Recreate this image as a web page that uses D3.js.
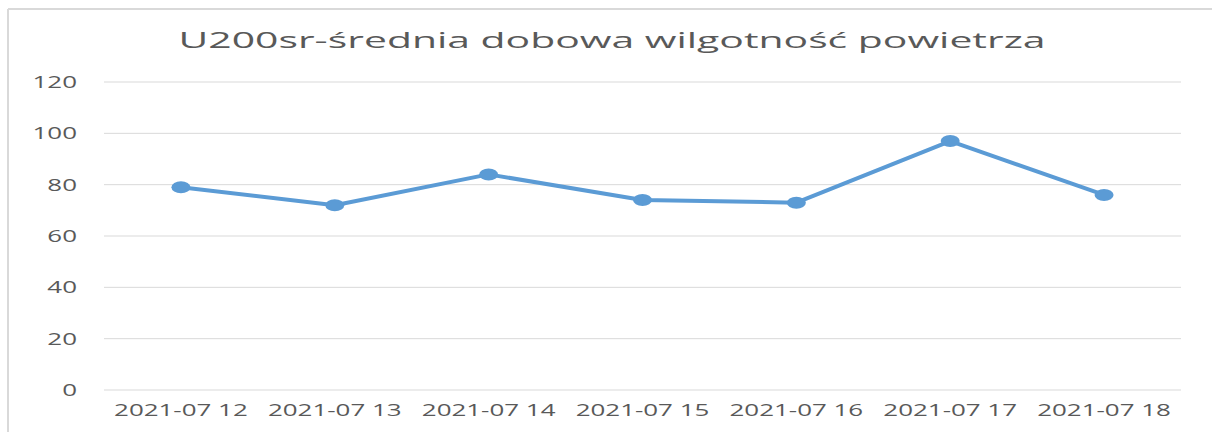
<!DOCTYPE html>
<html>
<head>
<meta charset="utf-8">
<script src="https://cdn.jsdelivr.net/npm/d3@7"></script>
<style>
  body { margin: 0; background: #fff; }
  text { font-family: "Open Sans", sans-serif; fill: #595959; }
</style>
</head>
<body>
<svg id="chart"></svg>
<script>
// data
const dates  = ["2021-07 12", "2021-07 13", "2021-07 14", "2021-07 15", "2021-07 16", "2021-07 17", "2021-07 18"];
const values = [79, 72, 84, 74, 73, 97, 76];
const yTicks = [0, 20, 40, 60, 80, 100, 120];
const title  = "U200sr-średnia dobowa wilgotność powietrza";

const width = 1212, height = 432;
const plot = {left: 104, right: 1181, top: 82, bottom: 390};

// the original is stretched sideways, so text is widened to match
const stretch = 1.62;

const svg = d3.select("#chart")
    .attr("width", width)
    .attr("height", height);

// chart frame (only left and top edges show)
svg.append("line")
    .attr("x1", 8).attr("x2", 8).attr("y1", 9).attr("y2", height)
    .attr("stroke", "#d9d9d9").attr("stroke-width", 2);
svg.append("line")
    .attr("x1", 8).attr("x2", width).attr("y1", 9).attr("y2", 9)
    .attr("stroke", "#d9d9d9").attr("stroke-width", 2);

const x = d3.scaleBand().domain(dates).range([plot.left, plot.right]).padding(0);
const y = d3.scaleLinear().domain([0, 120]).range([plot.bottom, plot.top]);

// gridlines
svg.append("g").selectAll("line")
    .data(yTicks)
    .enter().append("line")
    .attr("x1", plot.left).attr("x2", plot.right)
    .attr("y1", d => y(d)).attr("y2", d => y(d))
    .attr("stroke", "#d9d9d9").attr("stroke-width", 1);

// y labels, right aligned at x=77
const yLab = svg.append("g").selectAll("text")
    .data(yTicks)
    .enter().append("text")
    .attr("y", d => y(d) + 6)
    .style("font-size", "16px")
    .text(d => d);
yLab.each(function() {
  const w = this.getComputedTextLength() * stretch;
  d3.select(this).attr("x", 77 - w)
    .attr("textLength", w).attr("lengthAdjust", "spacingAndGlyphs");
});

// x labels
const xLab = svg.append("g").selectAll("text")
    .data(dates)
    .enter().append("text")
    .attr("y", 416)
    .style("font-size", "16px")
    .text(d => d);
xLab.each(function(d) {
  const w = this.getComputedTextLength() * stretch;
  d3.select(this).attr("x", x(d) + x.bandwidth() / 2 - w / 2)
    .attr("textLength", w).attr("lengthAdjust", "spacingAndGlyphs");
});

// title
const t = svg.append("text")
    .attr("y", 48)
    .style("font-size", "22px")
    .text(title);
const tw = 867;
t.attr("x", 612 - tw / 2)
  .attr("textLength", tw).attr("lengthAdjust", "spacingAndGlyphs");

// series line
const line = d3.line()
    .x((d, i) => x(dates[i]) + x.bandwidth() / 2)
    .y(d => y(d));

svg.append("path")
    .datum(values)
    .attr("d", line)
    .attr("fill", "none")
    .attr("stroke", "#5b9bd5")
    .attr("stroke-width", 4)
    .attr("stroke-linejoin", "round");

svg.append("g").selectAll("ellipse")
    .data(values)
    .enter().append("ellipse")
    .attr("cx", (d, i) => x(dates[i]) + x.bandwidth() / 2)
    .attr("cy", d => y(d))
    .attr("rx", 9.5)
    .attr("ry", 6)
    .attr("fill", "#5b9bd5");
</script>
</body>
</html>
